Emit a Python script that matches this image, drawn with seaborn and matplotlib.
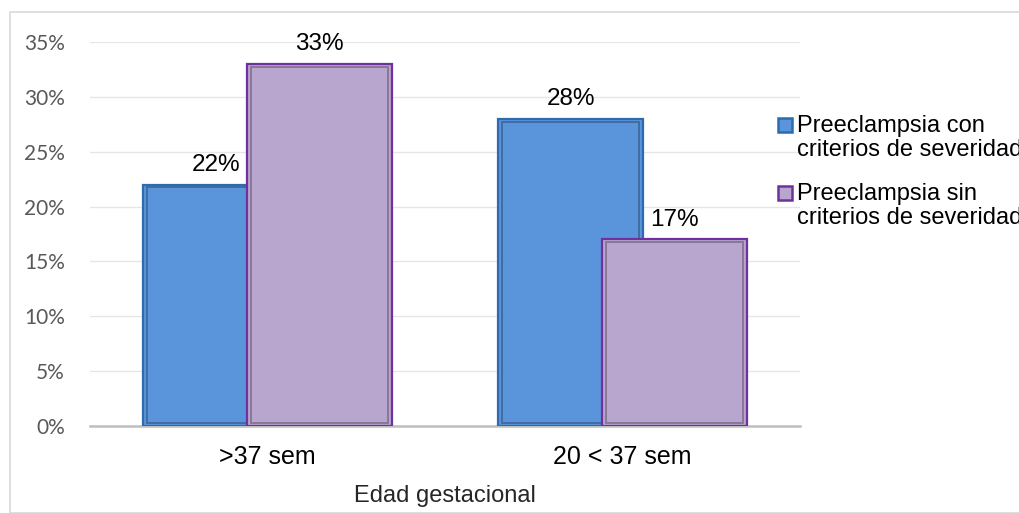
import matplotlib
matplotlib.use("Agg")
import matplotlib.pyplot as plt
import seaborn as sns
import pandas as pd
from matplotlib.patches import Rectangle

categorias = [">37 sem", "20 < 37 sem"]
series = ["Preeclampsia con\ncriterios de severidad", "Preeclampsia sin\ncriterios de severidad"]
con_severidad = [0.22, 0.28]
sin_severidad = [0.33, 0.17]
etiquetas_y = ["0%", "5%", "10%", "15%", "20%", "25%", "30%", "35%"]

df = pd.DataFrame({
    "edad": categorias * 2,
    "serie": [series[0]] * 2 + [series[1]] * 2,
    "valor": con_severidad + sin_severidad,
})

sns.set_style("white")
plt.rcParams["font.family"] = ["Liberation Sans", "DejaVu Sans"]

fig = plt.figure(figsize=(10.2, 5.13), dpi=100)
fig.patches.append(Rectangle((10 / 1020, 0), 1.2, 1 - 12 / 513, transform=fig.transFigure,
                             fill=False, edgecolor="#D9D9D9", linewidth=1.2))
ax = fig.add_axes([90 / 1020, 87 / 513, 710 / 1020, 384 / 513])

colores = ["#5A95DC", "#B9A6CE"]
bordes = ["#2E6AB0", "#7030A0"]
sns.barplot(data=df, x="edad", y="valor", hue="serie", hue_order=series,
            palette=colores, ax=ax, legend=False, saturation=1)

# barras anchas y solapadas como en el original
ancho = 0.41
desplaz = 0.146
for k, cont in enumerate(ax.containers):
    for i, p in enumerate(cont.patches):
        centro = i + (-desplaz if k == 0 else desplaz)
        p.set_x(centro - ancho / 2)
        p.set_width(ancho)
        p.set_edgecolor(bordes[k])
        p.set_linewidth(1.6)
        p.set_zorder(3 + k)
        h = p.get_height()
        # bisel interior
        ax.add_patch(Rectangle((centro - ancho / 2 + 0.012, 0.0025), ancho - 0.024, h - 0.005,
                               fill=False, edgecolor="#00000045", linewidth=1.4, zorder=3 + k))
        ax.text(centro, h + 0.008, f"{round(h * 100)}%", ha="center", va="bottom",
                fontsize=17.5, color="#000000", zorder=6)

ax.set_xlim(-0.5, 1.5)
ax.set_ylim(0, 0.35)
ax.set_yticks([i * 0.05 for i in range(8)])
ax.set_yticklabels(etiquetas_y, fontsize=15, color="#595959", family=["Lato", "DejaVu Sans"])
ax.tick_params(axis="y", length=0, pad=18)
ax.tick_params(axis="x", length=0, pad=14, labelsize=18, labelcolor="#000000")
ax.grid(axis="y", color="#E6E6E6", linewidth=1, zorder=0)
ax.set_axisbelow(True)
for s in ["top", "right", "left"]:
    ax.spines[s].set_visible(False)
ax.spines["bottom"].set_color("#BFBFBF")
ax.spines["bottom"].set_linewidth(1.8)
ax.set_ylabel("")
ax.set_xlabel("")
fig.text(445 / 1020, 1 - 502 / 513, "Edad gestacional", ha="center", va="baseline", fontsize=17)

# leyenda (marcador alineado con la primera linea)
for k, nombre in enumerate(series):
    base = 132 + 68 * k
    fig.patches.append(Rectangle((778 / 1020, 1 - base / 513), 14 / 1020, 14 / 513,
                                 transform=fig.transFigure, facecolor=colores[k],
                                 edgecolor=bordes[k], linewidth=1.8))
    for j, linea in enumerate(nombre.split("\n")):
        fig.text(797 / 1020, 1 - (base + 24 * j) / 513, linea, ha="left", va="baseline",
                 fontsize=17, color="#000000")

fig.savefig("out.png", dpi=100)
